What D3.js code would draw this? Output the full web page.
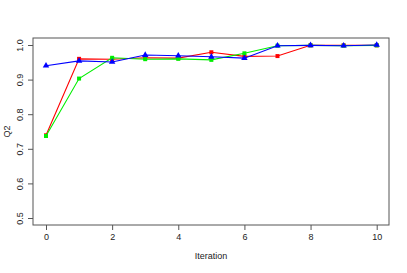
<!DOCTYPE html>
<html lang="en">
  <head>
    <meta charset="utf-8">
    <title>Q2 by iteration</title>
    <style>
      body { margin: 0; background: #fff; }
      text { font-family: 'Liberation Sans', Arial, sans-serif; }
    </style>
  </head>
  <body>
    <svg width="407" height="273"></svg>
    <script src="https://cdn.jsdelivr.net/npm/d3@7"></script>
    <script>
      const iterations = [0, 1, 2, 3, 4, 5, 6, 7, 8, 9, 10];
      const red_q2 = [0.739, 0.960, 0.959, 0.963, 0.962, 0.979, 0.967, 0.968, 0.999, 0.999, 0.999];
      const green_q2 = [0.737, 0.903, 0.963, 0.959, 0.960, 0.957, 0.976, 0.998, 0.999, 0.998, 0.999];
      const blue_q2 = [0.940, 0.954, 0.951, 0.971, 0.969, 0.966, 0.962, 0.998, 0.999, 0.998, 1.000];
      const x_ticks = [0, 2, 4, 6, 8, 10];
      const y_ticks = [0.5, 0.6, 0.7, 0.8, 0.9, 1.0];

      const svg = d3.select('svg');
      const box = {left: 33, right: 389, top: 38, bottom: 225};

      const x_scale = d3.scaleLinear().domain([0, 10]).range([46, 376.7]);
      const y_scale = d3.scaleLinear().domain([0.5, 1.0]).range([218, 45]);

      // plot box
      svg.append('rect')
        .attr('x', box.left).attr('y', box.top)
        .attr('width', box.right - box.left).attr('height', box.bottom - box.top)
        .attr('fill', 'none').attr('stroke', '#555').attr('stroke-width', 1);

      // axes
      const x_axis = d3.axisBottom(x_scale).tickValues(x_ticks).tickSize(5).tickPadding(4)
        .tickFormat(d3.format('d'));
      const x_axis_g = svg.append('g')
        .attr('transform', `translate(0,${box.bottom})`)
        .call(x_axis);
      x_axis_g.select('.domain').remove();
      x_axis_g.selectAll('line').attr('stroke', '#555');
      x_axis_g.selectAll('text').attr('font-size', 9).attr('fill', '#222')
        .style('font-family', "'Liberation Sans', Arial, sans-serif");

      const y_axis = d3.axisLeft(y_scale).tickValues(y_ticks).tickSize(5).tickPadding(0)
        .tickFormat(d3.format('.1f'));
      const y_axis_g = svg.append('g')
        .attr('transform', `translate(${box.left},0)`)
        .call(y_axis);
      y_axis_g.select('.domain').remove();
      y_axis_g.selectAll('line').attr('stroke', '#555');
      y_axis_g.selectAll('text')
        .attr('font-size', 9).attr('fill', '#222')
        .attr('x', null).attr('dy', null)
        .attr('text-anchor', 'middle')
        .attr('transform', 'translate(-10,0) rotate(-90)')
        .style('font-family', "'Liberation Sans', Arial, sans-serif");

      // axis titles
      svg.append('text')
        .attr('x', (box.left + box.right) / 2).attr('y', 259)
        .attr('text-anchor', 'middle').attr('font-size', 9).attr('fill', '#222')
        .text('Iteration');
      svg.append('text')
        .attr('transform', `translate(10,${(box.top + box.bottom) / 2}) rotate(-90)`)
        .attr('text-anchor', 'middle').attr('font-size', 9).attr('fill', '#222')
        .text('Q2');

      const series = [
        {values: red_q2, color: '#ff0000', symbol: d3.symbolSquare, size: 16},
        {values: green_q2, color: '#00ee00', symbol: d3.symbolSquare, size: 16},
        {values: blue_q2, color: '#0000ff', symbol: d3.symbolTriangle, size: 18}
      ];

      const line = d3.line()
        .x((d, i) => x_scale(iterations[i]))
        .y(d => y_scale(d));

      series.forEach(s => {
        const g = svg.append('g');
        g.append('path')
          .attr('d', line(s.values))
          .attr('fill', 'none')
          .attr('stroke', s.color)
          .attr('stroke-width', 1.1);
        g.selectAll('path.pt')
          .data(s.values).enter()
          .append('path')
          .attr('class', 'pt')
          .attr('d', d3.symbol().type(s.symbol).size(s.size))
          .attr('transform', (d, i) => `translate(${x_scale(iterations[i])},${y_scale(d)})`)
          .attr('fill', s.color);
      });
    </script>
  </body>
</html>
